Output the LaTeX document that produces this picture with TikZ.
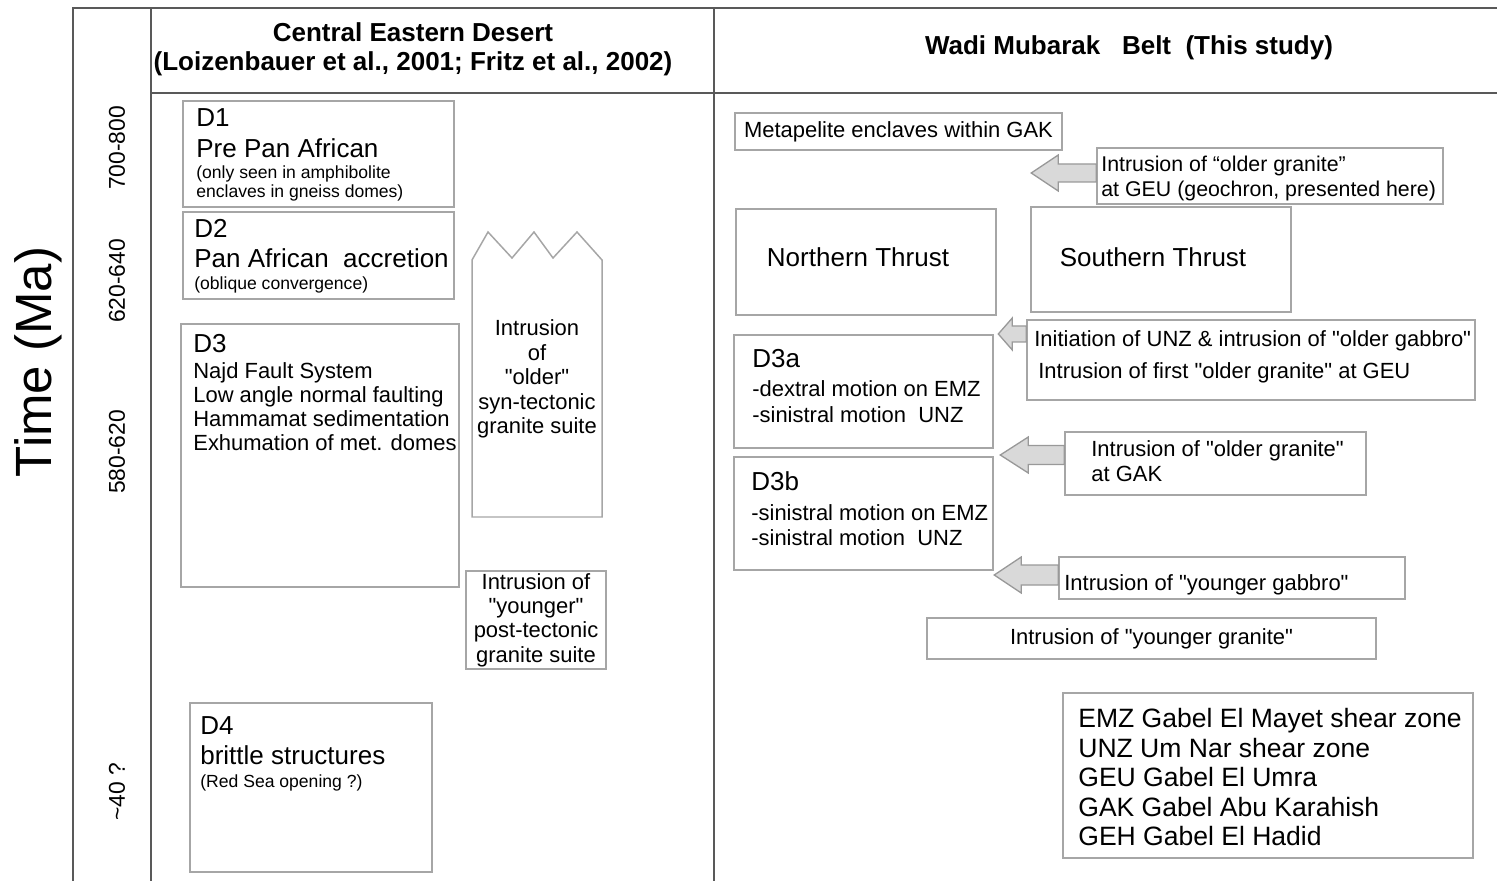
\documentclass[tikz,border=0pt]{standalone}
\usepackage{fontspec}
\setmainfont{Liberation Sans}
\usetikzlibrary{positioning}
\newcommand{\szsmall}{\fontsize{10}{10.8}\selectfont}
\newcommand{\szmed}{\fontsize{12.5}{13.9}\selectfont}
\newcommand{\szbig}{\fontsize{14.8}{17.6}\selectfont}
\newcommand{\szright}{\fontsize{12.5}{14.2}\selectfont}
\newcommand{\szhead}{\fontsize{14.8}{16.5}\selectfont\bfseries}
\newcommand{\szage}{\fontsize{13}{15}\selectfont}
\newcommand{\sztime}{\fontsize{29}{32}\selectfont}
\newcommand{\szlegend}{\fontsize{15.1}{16.8}\selectfont}
\newcommand{\qt}[1]{\textquotedbl#1\textquotedbl}
\tikzstyle{box} = [rectangle, draw=black!35, line width=0.85pt, inner sep=0pt]
\tikzstyle{txt} = [inner sep=0pt, align=left, anchor=north west]
\tikzstyle{ctxt} = [inner sep=0pt, align=center]
\tikzstyle{frame} = [draw=black!65, line width=1.15pt]
\tikzstyle{blockarrow} = [draw=black!40, fill=black!15, line width=0.75pt, line join=miter]

\begin{document}
\begin{tikzpicture}[x=0.02cm, y=-0.02cm]
        \useasboundingbox (0,0) rectangle (1497,881);
        % frame and columns
        \draw [frame] (73,881) -- (73,8) -- (1497,8);
        \draw [frame] (151,8) -- (151,881);
        \draw [frame] (714,8) -- (714,881);
        \draw [frame] (151,93) -- (1497,93);

        \node (headCED) [ctxt, font=\szhead] at (413,49.5) {Central Eastern Desert\\(Loizenbauer et al., 2001; Fritz et al., 2002)};
        \node (headWMB) [ctxt, font=\szhead] at (1129,48) {Wadi Mubarak~~ Belt~ (This study)};

        % time axis
        \node (time) [ctxt, font=\sztime, rotate=90] at (38,362) {Time (Ma)};
        \node (age1) [ctxt, font=\szage, rotate=90] at (117,148) {700-800};
        \node (age2) [ctxt, font=\szage, rotate=90] at (117,281) {620-640};
        \node (age3) [ctxt, font=\szage, rotate=90] at (117,452) {580-620};
        \node (age4) [ctxt, font=\szage, rotate=90] at (117,792) {\textasciitilde 40 ?};

        % Central Eastern Desert
        \node (d1) [box, minimum width=5.42cm, minimum height=2.12cm] at (318.5,154) {};
        \node (d1id) [txt, font=\szbig] at (196,108) {D1};
        \node (d1name) [txt, font=\szbig] at (196,138) {Pre Pan African};
        \node (d1note) [txt, font=\szsmall] at (196,165) {(only seen in amphibolite\\enclaves in gneiss domes)};
        \node (d2) [box, minimum width=5.42cm, minimum height=1.74cm] at (318.5,255.5) {};
        \node (d2id) [txt, font=\szbig] at (194,219) {D2};
        \node (d2name) [txt, font=\szbig] at (194,248) {Pan African~ accretion};
        \node (d2note) [txt, font=\szsmall] at (194,276) {(oblique convergence)};
        \node (d3) [box, minimum width=5.56cm, minimum height=5.26cm] at (320,455.5) {};
        \node (d3id) [txt, font=\szbig] at (193,334) {D3};
        \node (d3note) [txt, font=\fontsize{12.5}{13.66}\selectfont] at (193,362) {Najd Fault System\\Low angle normal faulting\\Hammamat sedimentation\\Exhumation of met. domes};
        \node (d4) [box, minimum width=4.84cm, minimum height=3.38cm] at (311,787.5) {};
        \node (d4id) [txt, font=\szbig] at (200,716) {D4};
        \node (d4name) [txt, font=\szbig] at (200,745) {brittle structures};
        \node (d4note) [txt, font=\szsmall] at (200,774) {(Red Sea opening ?)};

        \draw [box] (472,260) -- (488,232) -- (512,258) -- (534,232) -- (553,258) -- (577,232) -- (602,260) -- (602,517) -- (472,517) -- cycle;
        \node (olderSuite) [ctxt, font=\szmed] at (537,379) {Intrusion\\of\\\qt{older}\\syn-tectonic\\granite suite};
        \node (youngerSuite) [box, ctxt, font=\szmed, minimum width=2.8cm, minimum height=1.96cm] at (536,620) {Intrusion of\\\qt{younger}\\post-tectonic\\granite suite};

        % Wadi Mubarak Belt
        \node (meta) [box, font=\szmed, minimum width=6.54cm, minimum height=0.74cm] at (898.5,131.5) {Metapelite enclaves within GAK};
        \node (geu) [box, minimum width=6.92cm, minimum height=1.12cm] at (1270,176) {};
        \node (geutext) [txt, font=\fontsize{12.15}{14.2}\selectfont] at (1101,156) {Intrusion of “older granite”\\at GEU (geochron, presented here)};
        \node (north) [box, minimum width=5.2cm, minimum height=2.12cm] at (866,262) {};
        \node (northtext) [ctxt, font=\szbig] at (858,257) {Northern Thrust};
        \node (south) [box, minimum width=5.2cm, minimum height=2.1cm] at (1161,259.5) {};
        \node (southtext) [ctxt, font=\szbig] at (1153,257) {Southern Thrust};
        \node (init) [box, minimum width=8.96cm, minimum height=1.6cm] at (1251,360) {};
        \node (inittext) [txt, font=\szright] at (1034,330) {Initiation of UNZ \& intrusion of \qt{older gabbro}};
        \node (inittext2) [txt, font=\szright] at (1038,362) {Intrusion of first \qt{older granite} at GEU};
        \node (d3a) [box, minimum width=5.18cm, minimum height=2.26cm] at (863.5,391.5) {};
        \node (d3aid) [txt, font=\szbig] at (752,349) {D3a};
        \node (d3anote) [txt, font=\fontsize{12.5}{14.8}\selectfont] at (752,380) {-dextral motion on EMZ\\-sinistral motion~ UNZ};
        \node (gak) [box, minimum width=6.02cm, minimum height=1.26cm] at (1215.5,463.5) {};
        \node (gaktext) [txt, font=\szright] at (1091,440) {Intrusion of \qt{older granite}\\at GAK};
        \node (d3b) [box, minimum width=5.18cm, minimum height=2.26cm] at (863.5,513.5) {};
        \node (d3bid) [txt, font=\szbig] at (751,471) {D3b};
        \node (d3bnote) [txt, font=\szright] at (751,504) {-sinistral motion on EMZ\\-sinistral motion~ UNZ};
        \node (ygab) [box, minimum width=6.92cm, minimum height=0.84cm] at (1232,578) {};
        \node (ygabtext) [txt, font=\szright] at (1064,574) {Intrusion of \qt{younger gabbro}};
        \node (ygran) [box, font=\szmed, minimum width=8.98cm, minimum height=0.82cm] at (1151.5,638.5) {Intrusion of \qt{younger granite}};
        \node (legend) [box, minimum width=8.2cm, minimum height=3.3cm] at (1268,775.5) {};
        \node (legendtext) [txt, font=\szlegend] at (1078,708) {EMZ Gabel El Mayet shear zone\\UNZ Um Nar shear zone\\GEU Gabel El Umra\\GAK Gabel Abu Karahish\\GEH Gabel El Hadid};

        % block arrows
        \draw [blockarrow] (geu.west |- 0,164) -- ++(-38,0) -- ++(0,-9) -- ++(-27,18) -- ++(27,18) -- ++(0,-9) -- (geu.west |- 0,182) -- cycle;
        \draw [blockarrow] (init.west |- 0,326) -- ++(-14,0) -- ++(0,-8) -- ++(-14,16) -- ++(14,16) -- ++(0,-8) -- (init.west |- 0,342) -- cycle;
        \draw [blockarrow] (gak.west |- 0,445.5) -- ++(-36,0) -- ++(0,-8.5) -- ++(-28,18) -- ++(28,18) -- ++(0,-8.5) -- (gak.west |- 0,464.5) -- cycle;
        \draw [blockarrow] (ygab.west |- 0,565) -- ++(-37,0) -- ++(0,-8) -- ++(-27,18) -- ++(27,18) -- ++(0,-8) -- (ygab.west |- 0,585) -- cycle;
    \end{tikzpicture}
\end{document}
